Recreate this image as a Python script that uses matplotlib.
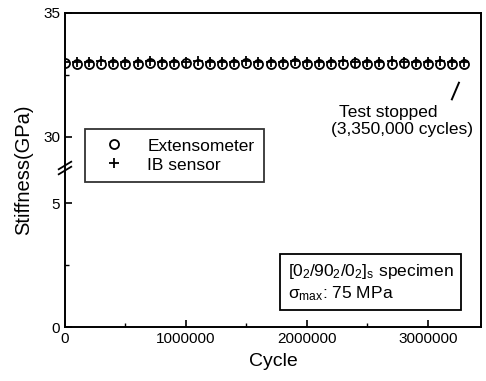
import matplotlib
matplotlib.use("Agg")
import matplotlib.pyplot as plt
import numpy as np

plt.rcParams['font.family'] = ['Liberation Sans', 'DejaVu Sans']
plt.rcParams['mathtext.fontset'] = 'custom'
plt.rcParams['mathtext.rm'] = 'Liberation Sans'
plt.rcParams['mathtext.it'] = 'Liberation Sans'
plt.rcParams['mathtext.bf'] = 'Liberation Sans:bold'

# Data
cycles = [0, 100000, 200000, 300000, 400000, 500000, 600000, 700000, 800000,
          900000, 1000000, 1100000, 1200000, 1300000, 1400000, 1500000,
          1600000, 1700000, 1800000, 1900000, 2000000, 2100000, 2200000,
          2300000, 2400000, 2500000, 2600000, 2700000, 2800000, 2900000,
          3000000, 3100000, 3200000, 3300000]
extensometer = [32.98, 32.95, 32.93, 32.95, 32.94, 32.93, 32.95, 32.96, 32.94,
                32.95, 32.96, 32.95, 32.94, 32.95, 32.95, 32.96, 32.95, 32.93,
                32.95, 32.96, 32.94, 32.95, 32.94, 32.95, 32.96, 32.95, 32.94,
                32.95, 32.96, 32.94, 32.95, 32.95, 32.94, 32.95]
ib_sensor = [33.02, 33.03, 33.02, 33.04, 33.03, 33.02, 33.03, 33.04, 33.03,
             33.02, 33.03, 33.04, 33.03, 33.02, 33.03, 33.04, 33.03, 33.02,
             33.03, 33.04, 33.03, 33.02, 33.03, 33.04, 33.03, 33.02, 33.03,
             33.04, 33.03, 33.02, 33.03, 33.04, 33.03, 33.02]

# broken y axis: 0-5 and 30-35 with a gap between
GAP = 2.7

def fwd(v):
    v = np.asarray(v, dtype=float)
    return np.where(v <= 5, v,
                    np.where(v >= 30, v - 30 + 5 + GAP, 5 + (v - 5) / 25 * GAP))

def inv(u):
    u = np.asarray(u, dtype=float)
    return np.where(u <= 5, u,
                    np.where(u >= 5 + GAP, u - 5 - GAP + 30, 5 + (u - 5) / GAP * 25))

fig = plt.figure(figsize=(4.86, 3.81), dpi=100)
ax = fig.add_axes([0.1337, 0.1417, 0.8560, 0.8242])
ax.set_yscale('function', functions=(fwd, inv))

ax.plot(cycles, extensometer, linestyle='none', marker='o', markersize=6.5,
        markerfacecolor='none', markeredgecolor='black', markeredgewidth=1.3,
        label='Extensometer')
ax.plot(cycles, ib_sensor, linestyle='none', marker='+', markersize=6.5,
        color='black', markeredgewidth=1.3, label='IB sensor')

ax.set_xlim(0, 3440000)
ax.set_ylim(0, 35)
ax.set_yticks([0, 5, 30, 35])
ax.set_yticks([2.5, 32.5], minor=True)
ax.set_xticks([0, 1000000, 2000000, 3000000])
ax.set_xticks([500000, 1500000, 2500000], minor=True)
ax.ticklabel_format(axis='x', style='plain', useOffset=False)
ax.tick_params(direction='in', labelsize=11, width=1.2, length=5)
ax.tick_params(which='minor', direction='in', width=1.0, length=3)
for s in ax.spines.values():
    s.set_linewidth(1.4)

ax.set_xlabel('Cycle', fontsize=14, labelpad=5)
ax.set_ylabel('Stiffness(GPa)', fontsize=14.5, labelpad=7)

# break marks on the left spine
yb = 1 - (168 - 13) / 314
for dy in (-0.008, 0.008):
    ax.plot([-0.015, 0.015], [yb + dy - 0.012, yb + dy + 0.012],
            transform=ax.transAxes, color='black', lw=1.3, clip_on=False)

leg = ax.legend(loc='upper left', bbox_to_anchor=(0.048, 0.631), fontsize=12.5,
                frameon=True, fancybox=False, handletextpad=0.85,
                borderpad=0.55, labelspacing=0.22, handlelength=2.2,
                borderaxespad=0)
leg.get_frame().set_edgecolor('black')
leg.get_frame().set_linewidth(1.3)

ax.text(0.776, 0.707, 'Test stopped', transform=ax.transAxes,
        ha='center', va='top', fontsize=12.5)
ax.text(0.81, 0.652, '(3,350,000 cycles)', transform=ax.transAxes,
        ha='center', va='top', fontsize=12.5)
ax.plot([0.930, 0.947], [0.725, 0.778], transform=ax.transAxes,
        color='black', lw=1.4)

ax.text(0.535, 0.142, '$[0_2/90_2/0_2]_s$ specimen\n$\\sigma_{max}$: 75 MPa',
        transform=ax.transAxes, ha='left', va='center', fontsize=12.5,
        linespacing=1.2,
        bbox=dict(boxstyle='square,pad=0.45', facecolor='white',
                  edgecolor='black', linewidth=1.3))

plt.savefig('out.png', dpi=100)
